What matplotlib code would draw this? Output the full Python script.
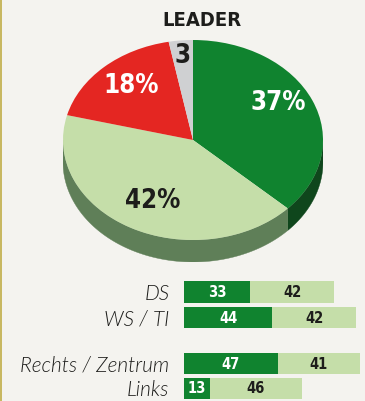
import numpy as np
import matplotlib
matplotlib.use("Agg")
import matplotlib.pyplot as plt
from matplotlib.patches import Polygon

# ---- data ----
pie_labels = ["37%", "42%", "18%", "3"]
pie_values = [37, 42, 18, 3]

categories = ["DS", "WS / TI", "Rechts / Zentrum", "Links"]
series_a = [33, 44, 47, 13]
series_b = [42, 42, 41, 46]

# ---- style ----
BG = "#f4f3ef"
DARK_GREEN = "#10832f"
LIGHT_GREEN = "#c5dea9"
RED = "#e42622"
GRAY = "#cfd0d2"
DARK_GREEN_SIDE = "#0f461c"
LIGHT_GREEN_SIDE = "#5f7f58"
INK = "#1d1d1b"
BORDER = "#c8b862"

pie_colors = [DARK_GREEN, LIGHT_GREEN, RED, GRAY]
side_colors = [DARK_GREEN_SIDE, LIGHT_GREEN_SIDE, "#8f1513", "#8a8b8d"]
label_colors = ["white", INK, "white", INK]
label_r = [0.75, 0.68, 0.72, 0.84]
label_nudge = [6, 2, -2, 0]

BOLD = dict(family="DejaVu Sans", fontweight="bold", fontstretch="condensed")

W, H = 365, 401
fig = plt.figure(figsize=(W / 100, H / 100), dpi=100)
fig.patch.set_facecolor(BG)

# full-figure layer in pixel units for frame and title
base = fig.add_axes([0, 0, 1, 1])
base.set_xlim(0, W)
base.set_ylim(H, 0)
base.axis("off")
base.axvspan(0, 1.8, color=BORDER, lw=0)
base.text(201.5, 21, "LEADER", ha="center", va="center", fontsize=14.5,
          color=INK, **BOLD)

# ---- 3D pie ----
px_l, px_r, px_top, depth_px = 63, 323, 40, 22
rx_px, ry_px = (px_r - px_l) / 2, 100
depth = depth_px / ry_px
ax_pie = fig.add_axes([px_l / W, (H - (px_top + 2 * ry_px + depth_px)) / H,
                       (px_r - px_l) / W, (2 * ry_px + depth_px) / H])
ax_pie.axis("off")

fractions = np.array(pie_values, dtype=float) / sum(pie_values)
ends = 90 - 360 * np.cumsum(fractions)
starts = np.concatenate([[90], ends[:-1]])

# visible rim along the front half (180..360 degrees)
for s, e, col in zip(starts, ends, side_colors):
    lo, hi = e % 360, s % 360
    if hi <= lo:
        hi += 360
    a0, a1 = max(lo, 180), min(hi, 360)
    if a1 <= a0:
        continue
    t = np.radians(np.linspace(a0, a1, 120))
    xs = np.concatenate([np.cos(t), np.cos(t[::-1])])
    ys = np.concatenate([np.sin(t), np.sin(t[::-1]) - depth])
    ax_pie.add_patch(Polygon(np.column_stack([xs, ys]), closed=True,
                             facecolor=col, edgecolor=col, lw=0.3))

wedges, _ = ax_pie.pie(pie_values, colors=pie_colors, startangle=90,
                       counterclock=False, radius=1,
                       wedgeprops=dict(linewidth=0))
ax_pie.set_aspect("auto")
ax_pie.set_xlim(-1, 1)
ax_pie.set_ylim(-1 - depth, 1)

for s, e, lab, col, r, nd in zip(starts, ends, pie_labels, label_colors,
                                  label_r, label_nudge):
    mid = np.radians((s + e) / 2 + nd)
    ax_pie.text(r * np.cos(mid), r * np.sin(mid), lab, ha="center",
                va="center", fontsize=18.5, color=col, **BOLD)

# ---- stacked bars ----
unit_px = 25.7
bar_left_px = 184
px_per_pct = 2.0
rows = [0, 1, 2.79, 3.76]
top_px = 291.8 - 0.5 * unit_px
ax_bar = fig.add_axes([bar_left_px / W, 0, (W - bar_left_px) / W,
                       (H - top_px) / H])
ax_bar.set_xlim(0, (W - bar_left_px) / px_per_pct)
ax_bar.set_ylim((H - top_px) / unit_px - 0.5, -0.5)
ax_bar.set_facecolor("none")
for sp in ax_bar.spines.values():
    sp.set_visible(False)

ax_bar.barh(rows, series_a, height=0.84, color=DARK_GREEN, lw=0)
ax_bar.barh(rows, series_b, left=series_a, height=0.84, color=LIGHT_GREEN,
            lw=0)
for y, a, b in zip(rows, series_a, series_b):
    ax_bar.text(a / 2, y + 0.02, str(a), ha="center", va="center",
                fontsize=10.5, color="white", **BOLD)
    ax_bar.text(a + b / 2, y + 0.02, str(b), ha="center", va="center",
                fontsize=10.5, color=INK, **BOLD)

ax_bar.set_xticks([])
ax_bar.set_yticks(rows)
ax_bar.set_yticklabels(categories, fontsize=15, style="italic",
                       fontweight=300, family="Lato", color=INK)
ax_bar.tick_params(axis="y", length=0, pad=10.5)

fig.savefig("out.png", dpi=100, facecolor=BG)
